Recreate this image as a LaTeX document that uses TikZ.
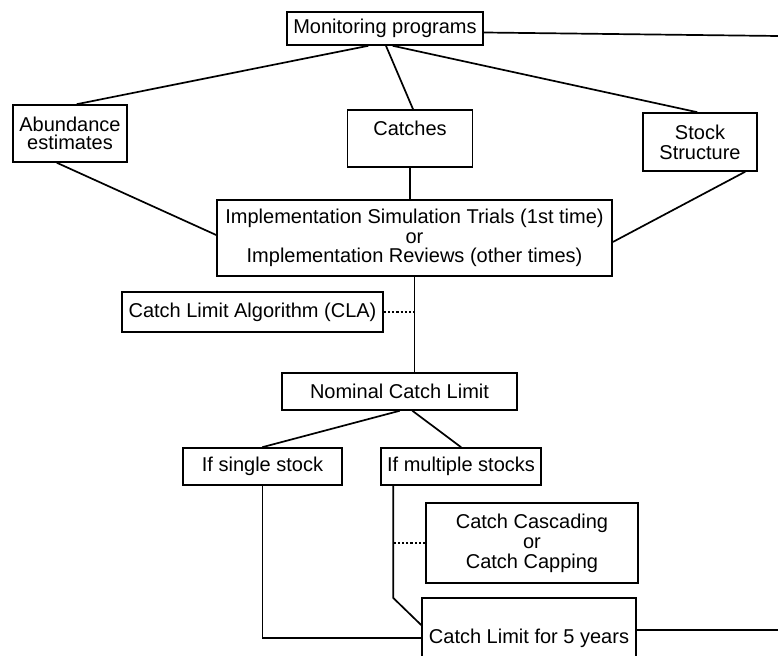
\documentclass[tikz,border=0pt]{standalone}
\usepackage{fontspec}
\setmainfont{Liberation Sans}
\usepackage{tikz}

\begin{document}
\begin{tikzpicture}[x=0.5pt, y=-0.5pt, line width=0.85pt,
  box/.style={draw, inner sep=0pt, align=center, font=\fontsize{10}{10}\selectfont},
  link/.style={line cap=round},
  dots/.style={densely dotted, line width=1.1pt}]
\useasboundingbox (0,0) rectangle (778,656);

\node[box, minimum width=98pt, minimum height=16.5pt] (mon) at (385,28.5) {Monitoring programs};
\node[box, minimum width=57pt, minimum height=28.5pt, font=\fontsize{10}{9}\selectfont] (abund) at (70,133.5) {Abundance\\estimates};
\node[box, minimum width=62.5pt, minimum height=28.5pt, text height=7.3pt, text depth=10.5pt] (catches) at (410,138.5) {Catches};
\node[box, minimum width=57pt, minimum height=29pt] (stock) at (700,142) {Stock\\Structure};
\node[box, minimum width=197.5pt, minimum height=38pt, font=\fontsize{10}{9.75}\selectfont] (impl) at (414.5,238)
  {Implementation Simulation Trials (1st time)\\or\\Implementation Reviews (other times)};
\node[box, minimum width=130.5pt, minimum height=20pt] (cla) at (252.5,312) {Catch Limit Algorithm (CLA)};
\node[box, minimum width=117.5pt, minimum height=18.5pt] (nominal) at (399.5,391.5) {Nominal Catch Limit};
\node[box, minimum width=79.5pt, minimum height=18.5pt] (single) at (262.5,466.5) {If single stock};
\node[box, minimum width=80pt, minimum height=18.5pt] (multi) at (461,466.5) {If multiple stocks};
\node[box, minimum width=106pt, minimum height=40pt] (cascade) at (532,543) {Catch Cascading\\or\\Catch Capping};
\node[box, minimum width=107pt, minimum height=40pt] (limit) at (529,638) {Catch Limit for 5 years};

\coordinate (out1) at (778,36);
\coordinate (out2) at (778,630);
\coordinate (mline) at ([xshift=6.5pt]multi.south west);

\draw[link] ([yshift=-2pt]mon.east) -- (out1);
\draw[link] ([xshift=-8.5pt]mon.south) -- ([xshift=3.5pt]abund.north);
\draw[link] ([xshift=0.5pt]mon.south) -- ([xshift=1.5pt]catches.north);
\draw[link] ([xshift=4pt]mon.south) -- ([xshift=-1.5pt]stock.north);

\draw[link] ([xshift=-6.5pt]abund.south) -- ([yshift=1.5pt]impl.west);
\draw[link] (catches.south) -- (catches.south |- impl.north);
\draw[link] ([xshift=22.5pt]stock.south) -- ([yshift=-2pt]impl.east);

\draw[link] (impl.south) -- (impl.south |- nominal.north);
\draw[dots] (cla.east) -- (cla.east -| impl.south);

\draw[link] (nominal.south) -- (single.north);
\draw[link] ([xshift=6.5pt]nominal.south) -- (multi.north);

\draw[link] (single.south) |- (limit.west);
\draw[link] (mline) -- ++(0,112) -- ([yshift=6.5pt]limit.west);
\draw[dots] (cascade.west) -- (cascade.west -| mline);
\draw[link] ([yshift=4pt]limit.east) -- (out2);
\end{tikzpicture}
\end{document}
